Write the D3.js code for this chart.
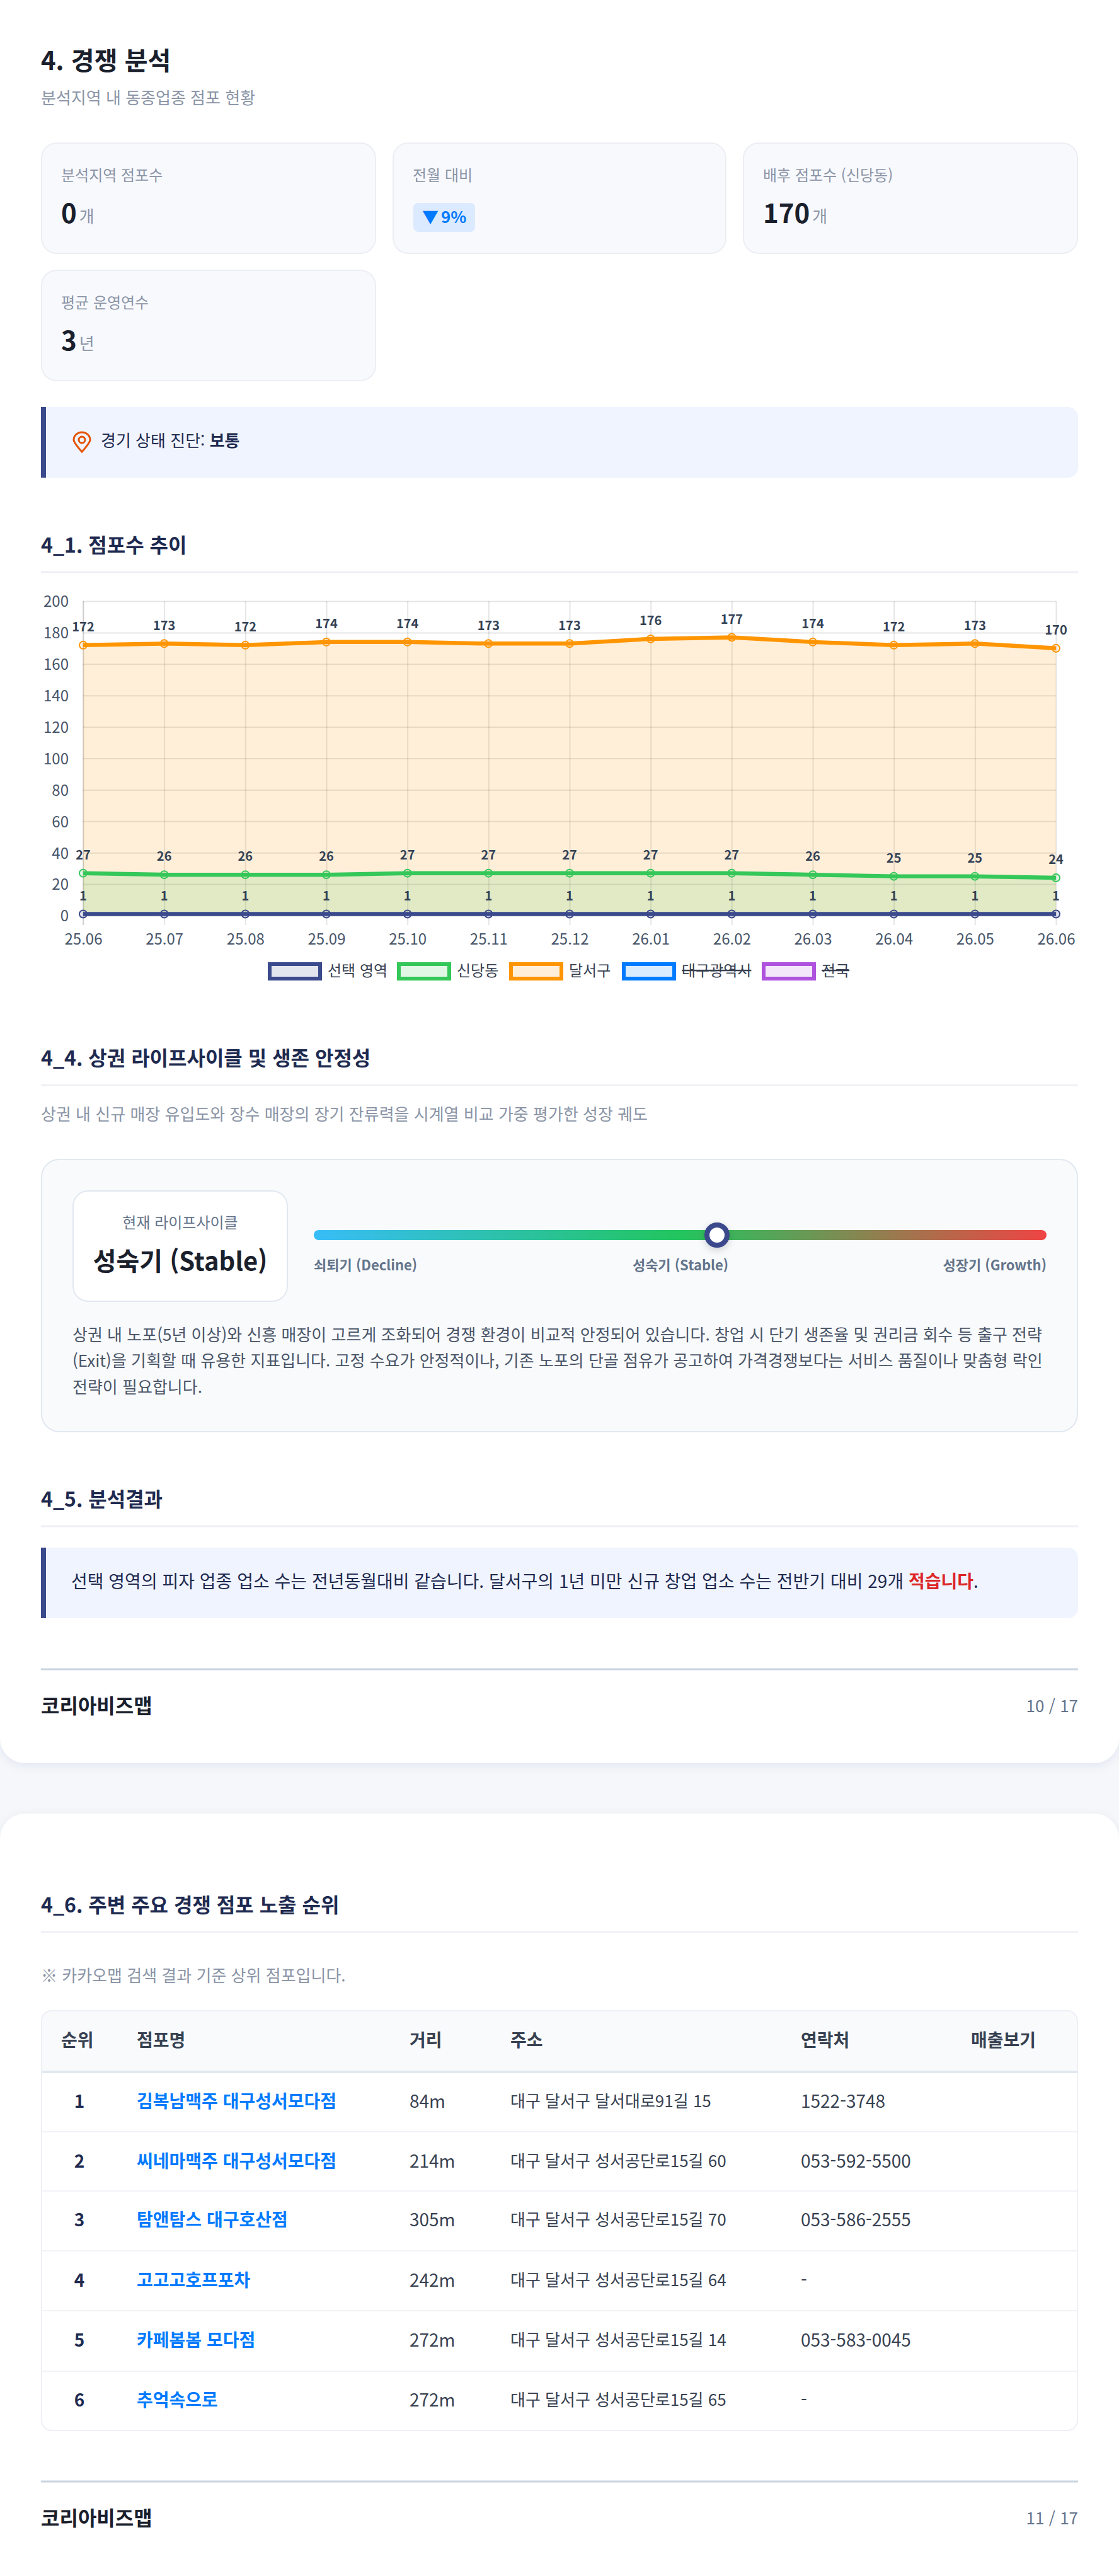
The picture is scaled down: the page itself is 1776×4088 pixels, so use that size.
<!DOCTYPE html>
<html lang="ko"><head><meta charset="utf-8">
<script src="https://cdn.jsdelivr.net/npm/d3@7"></script>
<style>
html,body{margin:0;padding:0;background:#f5f7fb}
svg{display:block}
text{font-family:"Noto Sans CJK KR","Noto Sans",sans-serif}
</style></head><body><div id="root"></div>
<script>
const months=["25.06","25.07","25.08","25.09","25.10","25.11","25.12","26.01","26.02","26.03","26.04","26.05","26.06"];
const selectedArea=[1,1,1,1,1,1,1,1,1,1,1,1,1];
const sindang=[27,26,26,26,27,27,27,27,27,26,25,25,24];
const dalseo=[172,173,172,174,174,173,173,176,177,174,172,173,170];
const yTicks=[0,20,40,60,80,100,120,140,160,180,200];
const legendLabels=["선택 영역","신당동","달서구","대구광역시","전국"];
const legendColors=["#3b4a8c","#34c759","#ff9500","#007aff","#af52de"];
const legendHidden=[false,false,false,true,true];
const ranks=[1,2,3,4,5,6];
const shops=["김복남맥주 대구성서모다점","씨네마맥주 대구성서모다점","탐앤탐스 대구호산점","고고고호프포차","카페봄봄 모다점","추억속으로"];
const distances=["84m","214m","305m","242m","272m","272m"];
const addresses=["대구 달서구 달서대로91길 15","대구 달서구 성서공단로15길 60","대구 달서구 성서공단로15길 70","대구 달서구 성서공단로15길 64","대구 달서구 성서공단로15길 14","대구 달서구 성서공단로15길 65"];
const phones=["1522-3748","053-592-5500","053-586-2555","-","053-583-0045","-"];
const tableHead=["순위","점포명","거리","주소","연락처","매출보기"];

const W=1776,H=4088;
const svg=d3.select("#root").append("svg").attr("width",W).attr("height",H).attr("viewBox",[0,0,W,H]);
const defs=svg.append("defs");
const sh=defs.append("filter").attr("id","cardShadow").attr("x","-5%").attr("y","-5%").attr("width","110%").attr("height","110%");
sh.append("feDropShadow").attr("dx",0).attr("dy",4).attr("stdDeviation",8).attr("flood-color","#1e2a5a").attr("flood-opacity",0.07);
const ts=defs.append("filter").attr("id","thumbShadow").attr("x","-60%").attr("y","-60%").attr("width","220%").attr("height","220%");
ts.append("feDropShadow").attr("dx",0).attr("dy",4).attr("stdDeviation",6).attr("flood-color","#000").attr("flood-opacity",0.16);
const grad=defs.append("linearGradient").attr("id","lifeGrad");
[["0%","#38bdf8"],["50%","#22c55e"],["100%","#ef4444"]].forEach(s=>grad.append("stop").attr("offset",s[0]).attr("stop-color",s[1]));

function T(x,cy,s,size,color,weight,anchor){
  return svg.append("text").attr("x",x).attr("y",cy).attr("dy","0.35em").attr("font-size",size)
    .attr("fill",color).attr("font-weight",weight||400).attr("text-anchor",anchor||"start").text(s);
}
function R(x,y,w,h,r,fill,stroke,sw){
  return svg.append("rect").attr("x",x).attr("y",y).attr("width",w).attr("height",h).attr("rx",r)
    .attr("fill",fill).attr("stroke",stroke||"none").attr("stroke-width",sw||0);
}
function heading(s,cy,ruleY){
  T(65,cy,s,32,"#1e2a50",700);
  R(65,ruleY-1.5,1646,3,0,"#eef0f5");
}
function footer(cy,ruleY,page){
  R(65,ruleY-1.5,1646,3,0,"#cbd5e1");
  T(65,cy,"코리아비즈맵",32,"#1a202c",700);
  T(1711,cy,page,26,"#64748b",400,"end");
}
function banner(y,h){
  svg.append("path").attr("fill","#f0f4ff")
    .attr("d",`M65,${y}H1695a16,16 0 0 1 16,16V${y+h-16}a16,16 0 0 1 -16,16H65Z`);
  R(65,y,8,h,0,"#3b4a8c");
}

// pages
R(0,-40,W,2838,40,"#fff").attr("filter","url(#cardShadow)");
R(0,2878,W,1250,40,"#fff").attr("filter","url(#cardShadow)");

// header
T(65,97,"4. 경쟁 분석",40,"#1a202c",700);
T(65,156,"분석지역 내 동종업종 점포 현황",26,"#8a94a6");

function stat(x,y,w,label){
  R(x+1,y+1,w-2,175,24,"#f8f9fd","#eceef4",2);
  T(x+32,y+53,label,24,"#8a94a6");
}
function statValue(x,y,v,u){
  const t=T(x+32,y+113,v,42,"#1a202c",700);
  const len=t.node().getComputedTextLength();
  T(x+32+len+4,y+118,u,26,"#8a94a6");
}
stat(65,226,532,"분석지역 점포수"); statValue(65,226,"0","개");
stat(623,226,530,"전월 대비");
R(656,322,98,46,8,"#dbeafe");
T(670,345,"▼",26,"#007aff",700);
T(700,345,"9%",26,"#007aff",700);
stat(1179,226,532,"배후 점포수 (신당동)"); statValue(1179,226,"170","개");
stat(65,428,532,"평균 운영연수"); statValue(65,428,"3","년");

banner(646,112);
svg.append("path").attr("fill","none").attr("stroke","#e65100").attr("stroke-width",3)
  .attr("d","M130,717C122,708 117,702 117,698A13,12 0 0 1 143,698C143,702 138,708 130,717Z");
svg.append("circle").attr("cx",130).attr("cy",698).attr("r",5).attr("fill","none").attr("stroke","#e65100").attr("stroke-width",3);
const bt=T(160,700,"경기 상태 진단: ",26,"#1e2a50");
bt.append("tspan").attr("font-weight",700).text("보통");

// 4_1 chart
heading("4_1. 점포수 추이",866,908);
const x=d3.scalePoint().domain(months).range([132,1676]);
const y=d3.scaleLinear().domain([0,200]).range([1453,954]);
const gX=svg.append("g").attr("transform","translate(0,1453)")
  .call(d3.axisBottom(x).tickSize(15).tickPadding(14).tickFormat(d=>d));
gX.selectAll("line").attr("y1",-499).attr("stroke","rgba(0,0,0,0.1)").attr("stroke-width",2);
gX.select(".domain").remove();
const gY=svg.append("g").attr("transform","translate(132,0)")
  .call(d3.axisLeft(y).tickValues(yTicks).tickSize(16).tickPadding(7));
gY.selectAll("line").attr("x2",1544).attr("stroke","rgba(0,0,0,0.1)").attr("stroke-width",2);
gY.selectAll("text").attr("dy","0.37em");
gY.select(".domain").remove();
svg.selectAll(".tick text").attr("font-size",24).attr("fill","#475569")
  .style("font-family",'"Noto Sans CJK KR"');
svg.append("line").attr("x1",132).attr("x2",132).attr("y1",954).attr("y2",1468).attr("stroke","rgba(0,0,0,0.1)").attr("stroke-width",2);

const series=[{v:dalseo,c:legendColors[2]},{v:sindang,c:legendColors[1]},{v:selectedArea,c:legendColors[0]}];
const area=d3.area().x((d,i)=>x(months[i])).y0(y(0)).y1(d=>y(d));
const line=d3.line().x((d,i)=>x(months[i])).y(d=>y(d));
series.forEach(s=>{
  svg.append("path").datum(s.v).attr("d",area).attr("fill",s.c).attr("fill-opacity",0.15);
});
series.forEach(s=>{
  svg.append("path").datum(s.v).attr("d",line).attr("fill","none").attr("stroke",s.c).attr("stroke-width",6.5).attr("stroke-linejoin","round");
  svg.append("g").selectAll("circle").data(s.v).join("circle")
    .attr("cx",(d,i)=>x(months[i])).attr("cy",d=>y(d)).attr("r",6)
    .attr("fill",s.c).attr("fill-opacity",0.15).attr("stroke",s.c).attr("stroke-width",2);
  svg.append("g").selectAll("text").data(s.v).join("text")
    .attr("x",(d,i)=>x(months[i])).attr("y",d=>y(d)-29).attr("dy","0.36em")
    .attr("text-anchor","middle").attr("font-size",20).attr("font-weight",700).attr("fill","#334155").text(d=>d);
});
// legend
const legendX=[425,630,808,987,1209];
legendLabels.forEach((l,i)=>{
  R(legendX[i]+3,1530,80,23,0,legendColors[i]+"26",legendColors[i],6);
  const t=T(legendX[i]+95,1541,l,24,"#374151");
  if(legendHidden[i]) t.style("text-decoration","line-through");
});

// 4_4
heading("4_4. 상권 라이프사이클 및 생존 안정성",1680,1722);
T(65,1769,"상권 내 신규 매장 유입도와 장수 매장의 장기 잔류력을 시계열 비교 가중 평가한 성장 궤도",26,"#8a94a6");
R(66,1840,1644,432,28,"#f8fafc","#e2e8f0",2);
R(116,1890,340,175,24,"#fff","#e2e8f0",2);
T(286,1941,"현재 라이프사이클",24,"#64748b",400,"middle");
T(286,2002,"성숙기 (Stable)",40,"#1a202c",700,"middle");
R(498,1952,1163,16,8,"url(#lifeGrad)");
svg.append("circle").attr("cx",1138).attr("cy",1960).attr("r",16).attr("fill","#fff").attr("stroke","#3b4a8c").attr("stroke-width",8).attr("filter","url(#thumbShadow)");
T(498,2008,"쇠퇴기 (Decline)",22,"#64748b",600);
T(1080,2008,"성숙기 (Stable)",22,"#64748b",600,"middle");
T(1661,2008,"성장기 (Growth)",22,"#64748b",600,"end");
T(115,2119,"상권 내 노포(5년 이상)와 신흥 매장이 고르게 조화되어 경쟁 환경이 비교적 안정되어 있습니다. 창업 시 단기 생존율 및 권리금 회수 등 출구 전략",26,"#4a5568");
T(115,2160,"(Exit)을 기획할 때 유용한 지표입니다. 고정 수요가 안정적이나, 기존 노포의 단골 점유가 공고하여 가격경쟁보다는 서비스 품질이나 맞춤형 락인",26,"#4a5568");
T(115,2202,"전략이 필요합니다.",26,"#4a5568");

// 4_5
heading("4_5. 분석결과",2380,2422);
banner(2456,112);
const rt=T(113,2510,"선택 영역의 피자 업종 업소 수는 전년동월대비 같습니다. 달서구의 1년 미만 신규 창업 업소 수는 전반기 대비 29개 ",28,"#1e2a50");
rt.append("tspan").attr("fill","#dc2626").attr("font-weight",700).text("적습니다");
rt.append("tspan").text(".");
footer(2708,2649,"10 / 17");

// 4_6
heading("4_6. 주변 주요 경쟁 점포 노출 순위",3024,3066);
T(65,3136,"※ 카카오맵 검색 결과 기준 상위 점포입니다.",26,"#8a94a6");
const colX=[97,217,650,810,1271,1541];
svg.append("path").attr("fill","#f8fafc").attr("d","M66,3286V3206a16,16 0 0 1 16,-16H1694a16,16 0 0 1 16,16V3286Z");
R(66,3191,1644,666,16,"none","#eef0f5",2);
R(66,3286,1644,4,0,"#e2e8f0");
tableHead.forEach((h,i)=>T(colX[i],3238,h,28,"#374151",700));
const rowCy=[3335,3430,3523,3619,3714,3809], rowLine=[3383,3477,3572,3667,3763];
rowLine.forEach(l=>R(66,l-1,1644,2,0,"#f1f3f7"));
ranks.forEach((r,i)=>{
  T(126,rowCy[i],r,28,"#1e2a50",700,"middle");
  T(colX[1],rowCy[i],shops[i],28,"#007aff",700);
  T(colX[2],rowCy[i],distances[i],28,"#374151");
  T(colX[3],rowCy[i],addresses[i],26,"#374151");
  T(colX[4],rowCy[i],phones[i],28,"#374151");
});
footer(3997,3938,"11 / 17");
</script></body></html>
